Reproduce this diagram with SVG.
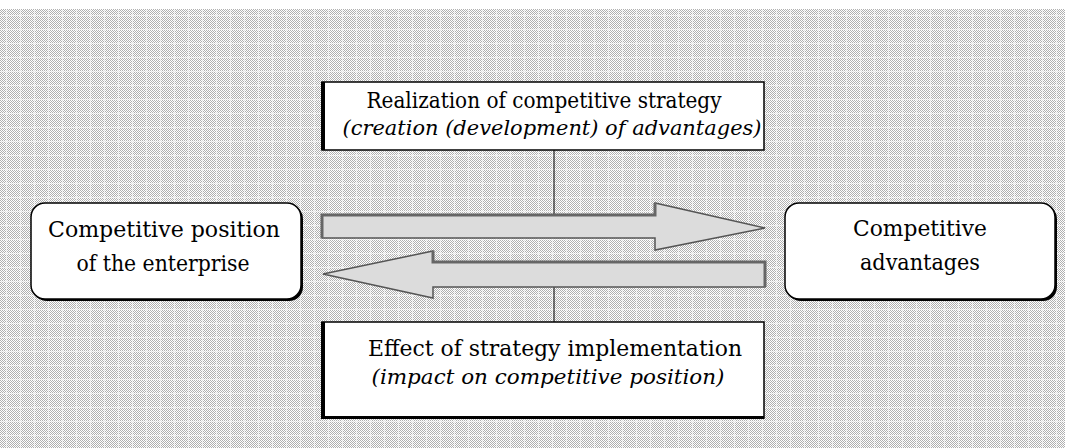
<svg xmlns="http://www.w3.org/2000/svg" width="1065" height="448" viewBox="0 0 1065 448">
<defs>
<pattern id="dots" x="0" y="0" width="2" height="2" patternUnits="userSpaceOnUse">
<rect width="2" height="2" fill="#ffffff"/>
<rect x="0" y="0" width="1" height="1" fill="#b0b0b0"/>
<rect x="1" y="1" width="1" height="1" fill="#b0b0b0"/>
</pattern>
<pattern id="grid" x="0" y="9" width="14" height="14" patternUnits="userSpaceOnUse">
<rect x="6" y="0" width="1" height="14" fill="#ffffff" opacity="0.6"/>
<rect x="0" y="6" width="14" height="1" fill="#ffffff" opacity="0.6"/>
</pattern>
</defs>
<style>
.t{font-family:"DejaVu Serif","Liberation Serif",serif;font-size:23px;fill:#000;text-anchor:middle}
.i{font-style:italic;font-size:21px}
.box{fill:#fff;stroke:#000;stroke-width:1.5}
.shadow{fill:#000}
.arrow{fill:#dcdcdc;stroke:#555;stroke-width:1.5;stroke-linejoin:miter}
.line{stroke:#000;stroke-width:1;fill:none}
</style>
<rect x="0" y="0" width="1065" height="448" fill="#fff"/>
<rect x="0" y="9" width="1065" height="439" fill="url(#dots)"/>
<rect x="0" y="9" width="1065" height="439" fill="url(#grid)"/>

<g id="connectors">
<line class="line" x1="554" y1="150" x2="554" y2="229"/>
<line class="line" x1="554" y1="274" x2="554" y2="322"/>
<path class="arrow" d="M322,215 L655,215 L655,203 L765,228 L655,250 L655,238 L322,238 Z"/>
<path d="M322,238 L322,215 L655,215 L655,203" fill="none" stroke="#666" stroke-width="3"/>
<path class="arrow" d="M765,262 L433,262 L433,251 L323,274 L433,298 L433,287 L765,287 Z"/>
<path d="M433,251 L433,262 L765,262 L765,287" fill="none" stroke="#666" stroke-width="3"/>
</g>

<g id="top-box">
<rect class="box" x="322" y="82" width="442" height="68"/>
<rect class="shadow" x="321" y="82" width="4" height="68"/>
<text class="t" x="544" y="108" textLength="355" lengthAdjust="spacingAndGlyphs">Realization of competitive strategy</text>
<text class="t i" x="552" y="135" textLength="419" lengthAdjust="spacingAndGlyphs">(creation (development) of advantages)</text>
</g>

<g id="bottom-box">
<rect class="box" x="322" y="322" width="442" height="96"/>
<rect class="shadow" x="321" y="322" width="4" height="97"/>
<rect class="shadow" x="321" y="416" width="443" height="3"/>
<text class="t" x="555" y="356" textLength="374" lengthAdjust="spacingAndGlyphs">Effect of strategy implementation</text>
<text class="t i" x="548" y="384" textLength="353" lengthAdjust="spacingAndGlyphs">(impact on competitive position)</text>
</g>

<g id="left-node">
<rect x="33" y="205" width="270" height="96" rx="14" ry="14" fill="#000"/>
<rect class="box" x="31" y="203" width="270" height="96" rx="14" ry="14"/>
<text class="t" x="164" y="237" textLength="232" lengthAdjust="spacingAndGlyphs">Competitive position</text>
<text class="t" x="163" y="271" textLength="173" lengthAdjust="spacingAndGlyphs">of the enterprise</text>
</g>

<g id="right-node">
<rect x="787" y="205" width="270" height="96" rx="14" ry="14" fill="#000"/>
<rect class="box" x="785" y="203" width="270" height="96" rx="14" ry="14"/>
<text class="t" x="920" y="236" textLength="134" lengthAdjust="spacingAndGlyphs">Competitive</text>
<text class="t" x="920" y="270" textLength="120" lengthAdjust="spacingAndGlyphs">advantages</text>
</g>
</svg>
